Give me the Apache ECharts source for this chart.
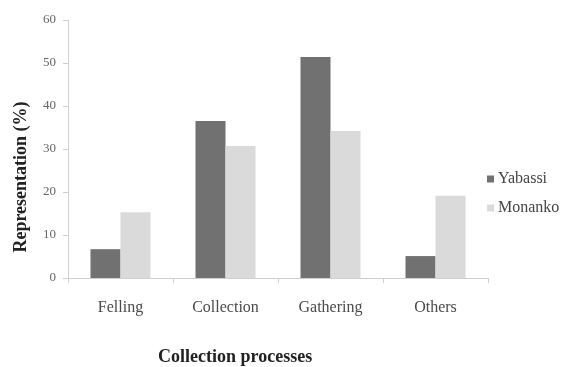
<!DOCTYPE html>
<html><head><meta charset="utf-8">
<script src="https://cdn.jsdelivr.net/npm/echarts@6/dist/echarts.min.js"></script>
<style>html,body{margin:0;padding:0;background:#fff}#c{width:564px;height:367px}</style>
</head><body><div id="c"></div>
<script>
const categories = ['Felling', 'Collection', 'Gathering', 'Others'];
const yabassi = [6.7, 36.5, 51.4, 5.1];
const monanko = [15.3, 30.7, 34.2, 19.1];
const seriesNames = ['Yabassi', 'Monanko'];
const yTicks = { min: 0, max: 60, interval: 10 };
const xTitle = 'Collection processes';
const yTitle = 'Representation (%)';

const font = '"Liberation Serif", "Times New Roman", serif';
const chart = echarts.init(document.getElementById('c'), null, { renderer: 'canvas' });
chart.setOption({
  backgroundColor: '#fff',
  animation: false,
  grid: { left: 68, right: 76, top: 20, bottom: 89 },
  legend: {
    orient: 'vertical', left: 482, top: 166, itemWidth: 7, itemHeight: 7, itemGap: 13,
    icon: 'rect', data: seriesNames,
    textStyle: { fontFamily: font, fontSize: 16, color: '#444', padding: [0, 0, 0, -1] }
  },
  xAxis: {
    type: 'category', data: categories,
    axisLine: { lineStyle: { color: '#d0d0d0' } },
    axisTick: { show: true, alignWithLabel: false, length: 5, lineStyle: { color: '#d0d0d0' } },
    axisLabel: { fontFamily: font, fontSize: 16, color: '#4a4a4a', margin: 22 }
  },
  yAxis: {
    type: 'value', min: yTicks.min, max: yTicks.max, interval: yTicks.interval,
    axisLine: { show: true, lineStyle: { color: '#d0d0d0' } },
    axisTick: { show: true, length: 5, lineStyle: { color: '#d0d0d0' } },
    splitLine: { show: false },
    axisLabel: { fontFamily: font, fontSize: 13, color: '#666', margin: 12 }
  },
  graphic: [
    { type: 'text', x: 158, y: 357,
      style: { text: xTitle, font: 'bold 18px ' + font, fill: '#222', verticalAlign: 'middle' } },
    { type: 'text', x: 21, y: 177, rotation: Math.PI / 2,
      style: { text: yTitle, font: 'bold 18px ' + font, fill: '#222', align: 'center', verticalAlign: 'middle' } }
  ],
  series: [
    { name: seriesNames[0], type: 'bar', data: yabassi, barWidth: 30, barGap: '0%',
      itemStyle: { color: '#717171' } },
    { name: seriesNames[1], type: 'bar', data: monanko, barWidth: 30, barGap: '0%',
      itemStyle: { color: '#dadada' } }
  ]
});
</script></body></html>
